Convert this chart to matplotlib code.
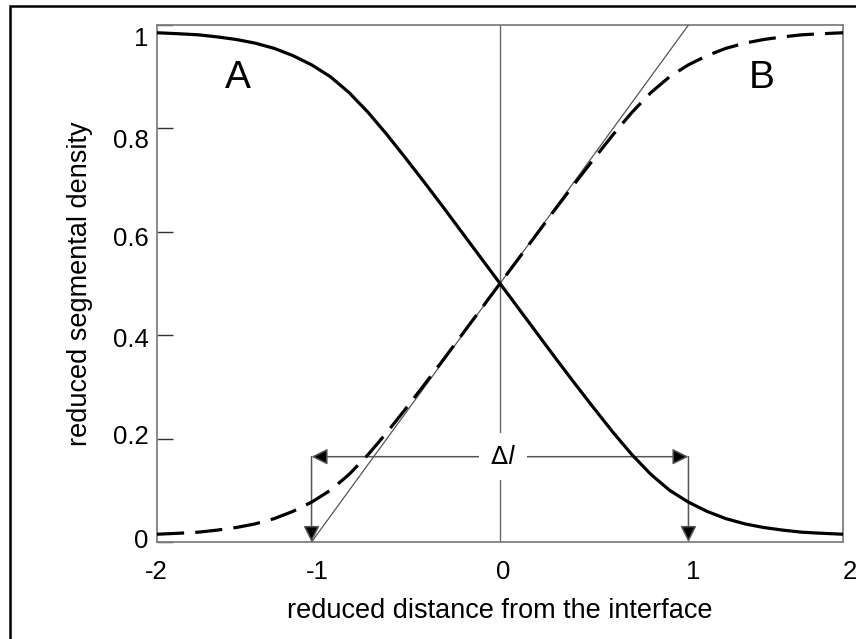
import matplotlib
matplotlib.use('Agg')
import matplotlib.pyplot as plt
from matplotlib.patches import Rectangle
from matplotlib.transforms import ScaledTranslation

plt.rcParams['font.family'] = ['Liberation Sans', 'DejaVu Sans']

# ---- data ----
distance = [-1.82, -1.7, -1.6, -1.5, -1.4, -1.3, -1.2, -1.1, -1.0, -0.9, -0.8, -0.7, -0.6, -0.5,
            -0.4, -0.3, -0.2, -0.1, 0.0, 0.1, 0.2, 0.3, 0.4, 0.5, 0.6, 0.7, 0.8, 0.9, 1.0,
            1.1, 1.2, 1.3, 1.4, 1.5, 1.6, 1.7, 1.82]
density_A = [0.985, 0.983, 0.981, 0.977, 0.972, 0.965, 0.955, 0.941, 0.923, 0.900, 0.869, 0.831,
             0.788, 0.742, 0.695, 0.647, 0.598, 0.549, 0.500, 0.451, 0.402, 0.353, 0.305, 0.258,
             0.212, 0.169, 0.131, 0.100, 0.077, 0.059, 0.045, 0.035, 0.028, 0.023, 0.019, 0.017,
             0.015]
density_B = [0.015, 0.017, 0.019, 0.023, 0.028, 0.035, 0.045, 0.059, 0.077, 0.100, 0.131, 0.169,
             0.212, 0.258, 0.305, 0.353, 0.402, 0.451, 0.500, 0.549, 0.598, 0.647, 0.695, 0.742,
             0.788, 0.831, 0.869, 0.900, 0.923, 0.941, 0.955, 0.965, 0.972, 0.977, 0.981, 0.983,
             0.985]
tangent_x = [-1.0, 1.0]
tangent_y = [0.0, 1.0]
delta_l_ends = [-1.0, 1.0]
delta_l_level = 0.165
x_limits = [-1.82, 1.82]
x_tick_pos = [-1.82, -1.0, 0.0, 1.0, 1.82]
x_tick_labels = ['-2', '-1', '0', '1', '2']
y_ticks = [0.0, 0.2, 0.4, 0.6, 0.8, 1.0]
y_tick_labels = ['0', '0.2', '0.4', '0.6', '0.8', '1']

W, H, DPI = 856, 639, 100
fig = plt.figure(figsize=(W / DPI, H / DPI), dpi=DPI)
ax = fig.add_axes([157 / W, 1 - 542 / H, (843 - 157) / W, (542 - 25) / H])

# outer frame of the figure
fig.add_artist(Rectangle((10 / W, -0.1), 1.2, 1.1 - 6 / H, transform=fig.transFigure,
                         fill=False, ec='black', lw=1.8, clip_on=False))

ax.plot(distance, density_A, color='black', lw=2.3, solid_capstyle='butt',
        solid_joinstyle='round', zorder=5)
ax.plot(distance, density_B, color='black', lw=2.3, dashes=(8.5, 3.5), zorder=5)
ax.plot(tangent_x, tangent_y, color='#555555', lw=0.9, zorder=3)
ax.axvline(0, color='#666666', lw=1.0, zorder=2)

# delta-l arrows
akw = dict(arrowstyle='<|-|>,head_length=0.7,head_width=0.35', fc='black', ec='#555555',
           lw=1.1, shrinkA=0, shrinkB=0, mutation_scale=14)
ax.annotate('', xy=(delta_l_ends[0], delta_l_level), xytext=(delta_l_ends[1], delta_l_level),
            arrowprops=akw, zorder=4)
vkw = dict(arrowstyle='-|>,head_length=0.7,head_width=0.35', fc='black', ec='#555555',
           lw=1.1, shrinkA=0, shrinkB=0, mutation_scale=14)
for xe in delta_l_ends:
    ax.annotate('', xy=(xe, 0), xytext=(xe, delta_l_level), arrowprops=vkw, zorder=4)
ax.text(0.015, delta_l_level, r'$\Delta$' + r'$\mathit{l}$', ha='center', va='center',
        fontsize=18, zorder=6,
        bbox=dict(boxstyle='square,pad=0.45', fc='white', ec='none'))

ax.text(-1.39, 0.898, 'A', fontsize=28, ha='center', va='center')
ax.text(1.39, 0.898, 'B', fontsize=28, ha='center', va='center')

ax.set_xlim(x_limits)
ax.set_ylim(0, 1.0)
ax.set_xticks(x_tick_pos)
ax.set_xticklabels(x_tick_labels)
ax.set_yticks(y_ticks)
ax.set_yticklabels(y_tick_labels)
ax.tick_params(axis='x', length=0, pad=13, labelsize=18.5)
ax.tick_params(axis='y', direction='in', length=11.5, width=1.0, color='#333333', pad=6,
               labelsize=18.5)
for s in ax.spines.values():
    s.set_color('#808080')
    s.set_linewidth(1.3)

ax.set_xlabel('reduced distance from the interface', fontsize=19.5, labelpad=10)
ax.set_ylabel('reduced segmental density', fontsize=19.5, labelpad=14)

# small offsets of tick labels as in the reference (pixels)
y_off = [-3, -4, 2, 5, 10, 12]
for lab, d in zip(ax.get_yticklabels(), y_off):
    lab.set_transform(lab.get_transform() + ScaledTranslation(0, -d / DPI, fig.dpi_scale_trans))
x_off = [-1, 6, 3, 5, 7]
for lab, d in zip(ax.get_xticklabels(), x_off):
    lab.set_transform(lab.get_transform() + ScaledTranslation(d / DPI, 0, fig.dpi_scale_trans))

fig.savefig('out.png', dpi=DPI)
